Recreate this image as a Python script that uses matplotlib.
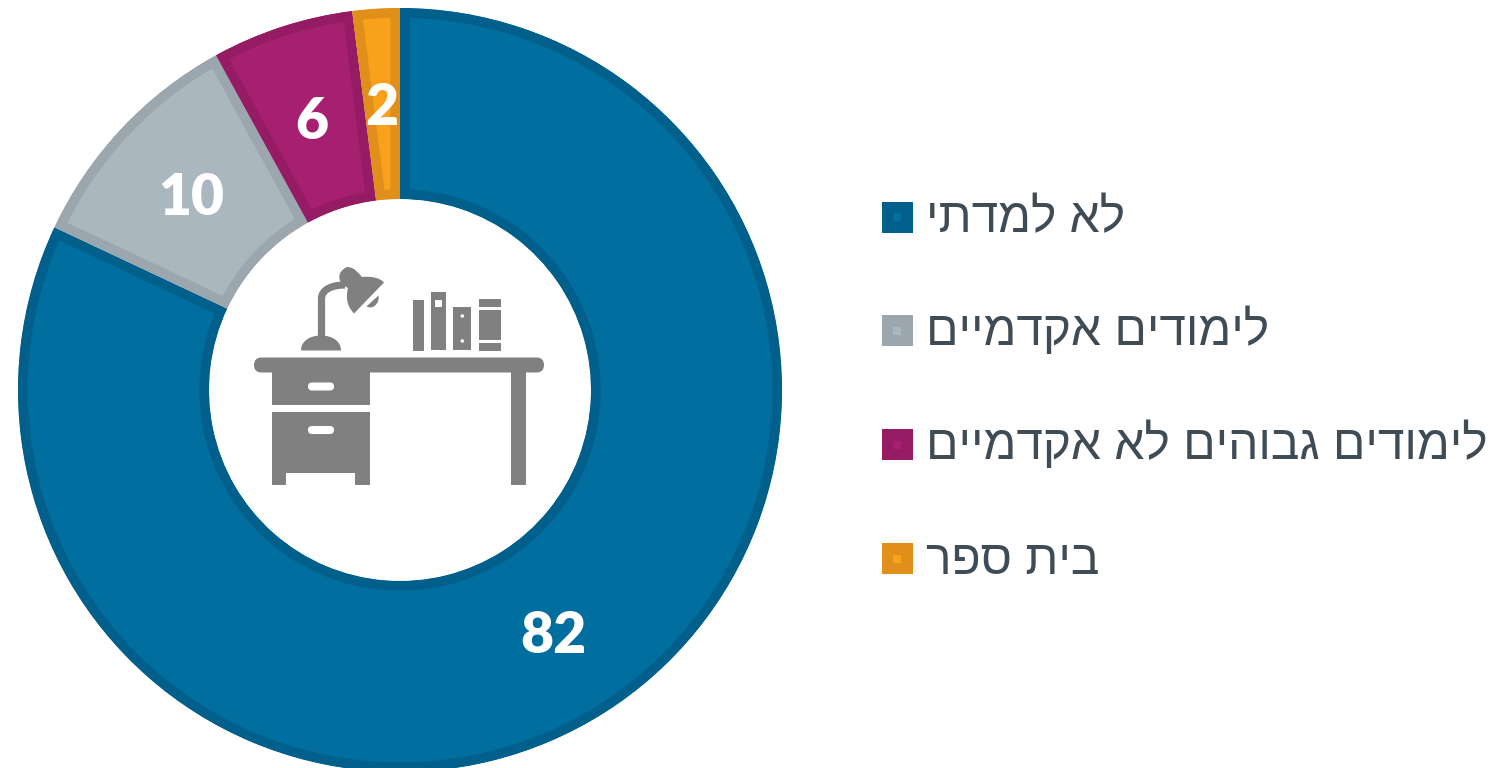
import matplotlib
matplotlib.use('Agg')
import matplotlib.pyplot as plt
from matplotlib.patches import Rectangle, FancyBboxPatch, Circle, PathPatch
from matplotlib.path import Path

labels = ['לא למדתי', 'לימודים אקדמיים', 'לימודים גבוהים לא אקדמיים', 'בית ספר']
values = [82, 10, 6, 2]
fill_colors = ['#006E9F', '#ABB7BF', '#A6206F', '#F9A11B']
edge_colors = ['#00608B', '#9BA6AE', '#951B64', '#E0901A']

ICON = '#808080'
TEXT = '#3F4C56'

fig = plt.figure(figsize=(15.06, 7.68), dpi=100)
ax = fig.add_axes([0, 0, 1, 1])

# y axis runs downward, so the angles are flipped compared to a normal pie
wedges, _, autotexts = ax.pie(
    values, colors=fill_colors, center=(400, 390), radius=382,
    startangle=-90, counterclock=True, frame=False,
    wedgeprops=dict(width=191), pctdistance=0.75,
    autopct=lambda p: f'{p:.0f}',
    textprops=dict(color='white', fontsize=41, fontweight='heavy', family='Lato'),
)

# the digits sit a bit lower than the slice midpoint
for t in autotexts:
    x, y = t.get_position()
    t.set_position((x, y + 4))

# border only on the inside of each slice: stroke clipped to the slice itself
for w, c in zip(wedges, edge_colors):
    w.set_edgecolor(c)
    w.set_linewidth(14)
    w.set_clip_on(True)
    w.set_clip_path(w)

ax.set_xlim(0, 1506)
ax.set_ylim(768, 0)
ax.set_aspect('auto')
ax.axis('off')


def box(x0, y0, x1, y1, color=ICON):
    ax.add_patch(Rectangle((x0, y0), x1 - x0, y1 - y0, fc=color, ec='none'))


def pill(x0, y0, x1, y1, color):
    r = (y1 - y0) / 2
    ax.add_patch(FancyBboxPatch((x0 + r, y0 + r), x1 - x0 - 2 * r, 0,
                                boxstyle=f'round,pad={r},rounding_size={r}',
                                fc=color, ec='none'))


# desk
pill(254, 357.5, 544, 372.5, ICON)
box(272, 372, 370, 404.5)
box(272, 412, 370, 473)
box(272, 473, 286.5, 484.5)
box(355.5, 473, 370, 484.5)
box(511, 372, 526, 484.5)
pill(308, 382.5, 334, 390.5, 'white')
pill(308, 426, 334, 434, 'white')

# books
box(413, 300, 424, 350.5)
box(431.5, 292, 446, 350)
box(435.5, 299.5, 442.5, 307, 'white')
box(453.5, 307, 471.5, 350)
ax.add_patch(Circle((462.3, 316), 1.8, fc='white', ec='none'))
ax.add_patch(Circle((462.3, 341), 1.8, fc='white', ec='none'))
box(479, 299, 501, 307)
box(479, 310, 501, 340)
box(479, 343, 501, 350.5)

# lamp
M, L, C, Z = Path.MOVETO, Path.LINETO, Path.CURVE4, Path.CLOSEPOLY
lamp_base = Path([(301, 350.5), (301, 341), (310, 335.5), (321, 335.5),
                  (332, 335.5), (341, 341), (341, 350.5), (301, 350.5)],
                 [M, C, C, C, C, C, C, Z])
lamp_arm = Path([(321.5, 338), (321.5, 310), (321.5, 298), (322, 290), (331, 285), (345, 285)],
                [M, L, L, C, C, C])
lamp_shade = Path([(384, 282.5), (354, 313.5), (346, 305), (346, 296), (348, 288),
                   (337, 283), (336, 272), (347, 267), (355, 267), (359, 274), (362, 277),
                   (372, 276), (380, 278), (384, 282.5), (384, 282.5)],
                  [M, L, C, C, C, C, C, C, C, C, C, C, C, C, Z])
lamp_bulb = Path([(366.5, 306.5), (378.5, 295.5), (380, 303), (373, 310), (366.5, 306.5)],
                 [M, L, C, C, Z])
ax.add_patch(PathPatch(lamp_base, fc=ICON, ec='none'))
ax.add_patch(PathPatch(lamp_arm, fc='none', ec=ICON, lw=5.2, capstyle='butt'))
ax.add_patch(PathPatch(lamp_shade, fc=ICON, ec='none'))
ax.add_patch(PathPatch(lamp_bulb, fc=ICON, ec='none'))

# legend, drawn by hand since the keys have a small square inside
legend_y = [217, 330.5, 444.5, 558.5]
for label, y, fc, ec in zip(labels, legend_y, fill_colors, edge_colors):
    box(882, y - 15.5, 913, y + 15.5, ec)
    box(893.5, y - 4, 901.5, y + 4, fc)
    # no bidi support in matplotlib, hebrew has to go in visual order
    ax.text(926, y + 15, label[::-1], fontsize=34.5, color=TEXT, ha='left', va='baseline',
            family=['Liberation Sans', 'DejaVu Sans'])

fig.savefig('out.png', dpi=100, facecolor='white')
